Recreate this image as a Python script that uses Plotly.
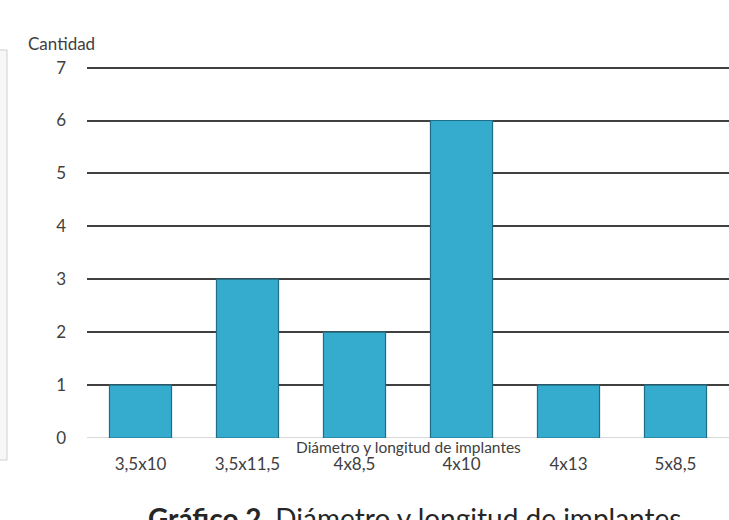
import plotly.graph_objects as go

categories = ["3,5x10", "3,5x11,5", "4x8,5", "4x10", "4x13", "5x8,5"]
values = [1, 3, 2, 6, 1, 1]
y_ticks = [0, 1, 2, 3, 4, 5, 6, 7]

W, H = 729, 520
L, R, T, B = 87, 0, 66, 82
pw, ph = W - L - R, H - T - B

def px(x):
    return (x - L) / pw

def py(y):
    return (H - B - y) / ph

FONT = "Lato, 'Open Sans', sans-serif"
TXT = "#404040"

fig = go.Figure()
fig.add_trace(go.Bar(
    x=categories, y=values, width=0.58,
    marker=dict(color="#35abce", line=dict(color="#1f6e87", width=1.2)),
))

fig.update_layout(
    width=W, height=H,
    margin=dict(l=L, r=R, t=T, b=B),
    paper_bgcolor="white", plot_bgcolor="white",
    showlegend=False,
    font=dict(family=FONT, size=17, color=TXT),
    xaxis=dict(showgrid=False, showline=False, zeroline=False, ticks="",
               ticklabelstandoff=14, tickfont=dict(size=17, color=TXT),
               range=[-0.5, 5.5]),
    yaxis=dict(range=[0, 7.03], tickvals=y_ticks, showgrid=True,
               gridcolor="#404040", gridwidth=1.5, zeroline=False,
               showline=False, ticks="", ticklabelstandoff=20,
               tickfont=dict(size=17, color=TXT)),
    shapes=[
        dict(type="line", xref="paper", yref="y", x0=0, x1=1, y0=0, y1=0,
             line=dict(color="#d9d9d9", width=2), layer="below"),
        dict(type="rect", xref="paper", yref="paper",
             x0=px(-10), x1=px(7), y0=py(460), y1=py(50),
             line=dict(color="#d0d0d0", width=1), fillcolor="#f7f7f7",
             layer="below"),
    ],
    annotations=[
        dict(text="Cantidad", xref="paper", yref="paper", x=px(26), y=py(43),
             xanchor="left", yanchor="middle", showarrow=False,
             font=dict(size=17, color=TXT)),
        dict(text="Diámetro y longitud de implantes", xref="paper", yref="paper",
             x=px(409), y=py(447), xanchor="center", yanchor="middle",
             showarrow=False, font=dict(size=15.5, color=TXT)),
        dict(text="<b>Gráfico 2.</b> Diámetro y longitud de implantes",
             xref="paper", yref="paper", x=px(415), y=py(499),
             xanchor="center", yanchor="top", showarrow=False,
             font=dict(size=28, color="#262626")),
    ],
)

fig.write_html("out.html")
